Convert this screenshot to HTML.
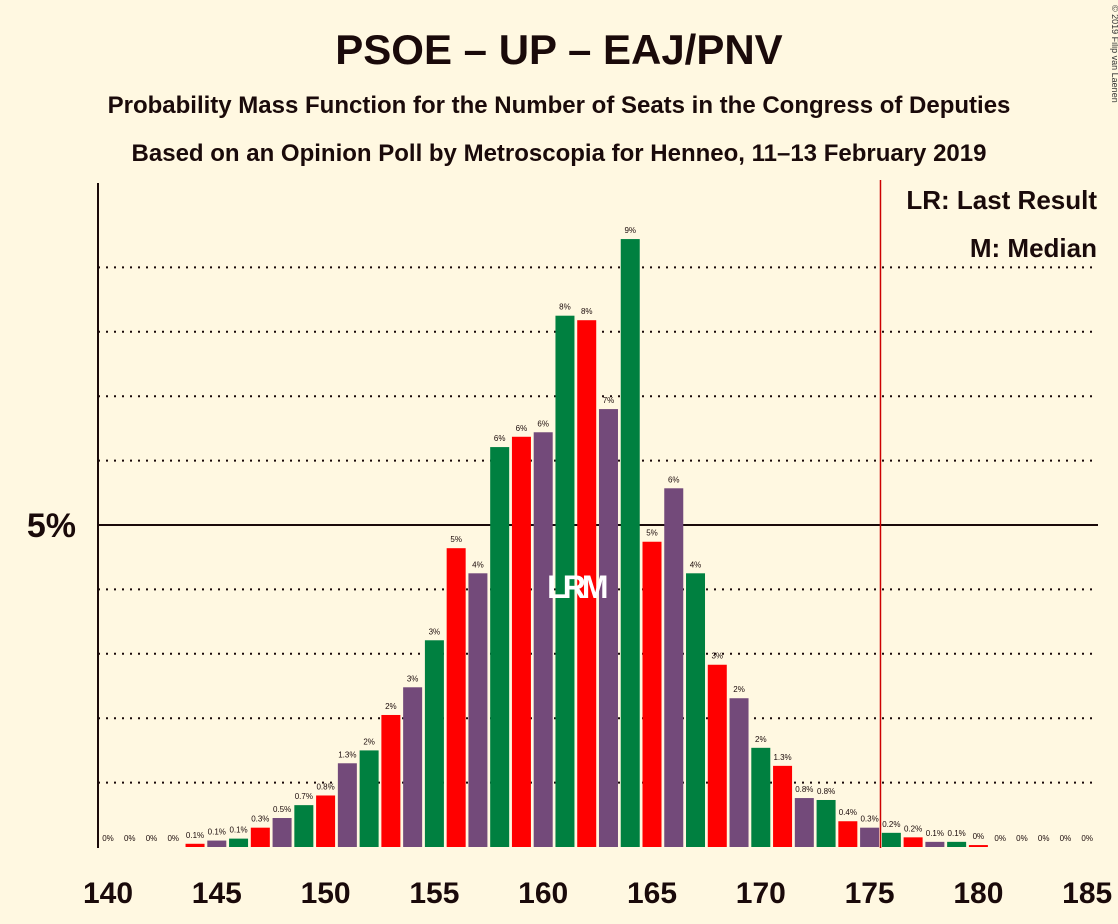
<!DOCTYPE html>
<html><head><meta charset="utf-8"><style>
body{margin:0;background:#fff8e1;}
svg{display:block;font-family:"Liberation Sans",sans-serif;}
</style></head><body>
<svg id="chart" width="1118" height="924" viewBox="0 0 1118 924">
<rect width="1118" height="924" fill="#fff8e1"/>
<text x="559" y="64" text-anchor="middle" font-size="42" font-weight="bold" fill="#1a0a0a">PSOE – UP – EAJ/PNV</text>
<text x="559" y="113" text-anchor="middle" font-size="24" font-weight="bold" fill="#1a0a0a">Probability Mass Function for the Number of Seats in the Congress of Deputies</text>
<text x="559" y="161" text-anchor="middle" font-size="24" font-weight="bold" fill="#1a0a0a">Based on an Opinion Poll by Metroscopia for Henneo, 11–13 February 2019</text>
<text x="1112" y="5" transform="rotate(90 1112 5)" font-size="9" fill="#333">© 2019 Filip van Laenen</text>
<g id="grid"></g>
<g id="bars"></g>
<g id="labels"></g>
<g id="xticks"></g>
<line x1="98" y1="183" x2="98" y2="848" stroke="#1a0a0a" stroke-width="2"/>
<text x="76" y="537" text-anchor="end" font-size="34" font-weight="bold" fill="#1a0a0a">5%</text>
<line id="lrline" x1="880" y1="180" x2="880" y2="848" stroke="#c00" stroke-width="1.5"/>
<text x="1097" y="209" text-anchor="end" font-size="26" font-weight="bold" fill="#1a0a0a">LR: Last Result</text>
<text x="1097" y="257" text-anchor="end" font-size="26" font-weight="bold" fill="#1a0a0a">M: Median</text>
</svg>
<script>
const seats=[140,141,142,143,144,145,146,147,148,149,150,151,152,153,154,155,156,157,158,159,160,161,162,163,164,165,166,167,168,169,170,171,172,173,174,175,176,177,178,179,180,181,182,183,184,185];
const probs=[0,0,0,0,0.05,0.1,0.13,0.3,0.45,0.65,0.8,1.3,1.5,2.05,2.48,3.21,4.64,4.25,6.21,6.37,6.44,8.25,8.18,6.8,9.44,4.74,5.57,4.25,2.83,2.31,1.54,1.26,0.76,0.73,0.4,0.3,0.22,0.15,0.08,0.08,0.03,0,0,0,0,0];
const valueLabels=["0%","0%","0%","0%","0.1%","0.1%","0.1%","0.3%","0.5%","0.7%","0.8%","1.3%","2%","2%","3%","3%","5%","4%","6%","6%","6%","8%","8%","7%","9%","5%","6%","4%","3%","2%","2%","1.3%","0.8%","0.8%","0.4%","0.3%","0.2%","0.2%","0.1%","0.1%","0%","0%","0%","0%","0%","0%"];
const xTicks=[140,145,150,155,160,165,170,175,180,185];
const gridPcts=[1,2,3,4,5,6,7,8,9];
const lastResult=161, median=162, majority=176;
const NS="http://www.w3.org/2000/svg";
const x=s=>108+(s-140)*21.76;
const y=p=>847-p*64.4;
const colorsFix=s=>s%3===2?"#008040":(s%3===0?"#ff0000":"#734a7a");
function mk(tag,attrs,parent){const e=document.createElementNS(NS,tag);for(const k in attrs)e.setAttribute(k,attrs[k]);document.getElementById(parent).appendChild(e);return e;}
gridPcts.forEach(p=>{
 const l=mk("line",{x1:98,x2:1098,y1:y(p),y2:y(p),stroke:"#1a0a0a","stroke-width":2,"stroke-dasharray":p===5?"":"2 6"},"grid");
 
 
});
seats.forEach((s,i)=>{
 const v=probs[i];
 if(v>0){
 const r=mk("rect",{x:x(s)-9.5,y:y(v),width:19,height:847-y(v),fill:colorsFix(s)},"bars");
 
 
 }
 const t=mk("text",{x:x(s),y:y(v)-6,"text-anchor":"middle","font-size":8,fill:"#1a0a0a"},"labels");
 t.textContent=valueLabels[i];
 
 
});
xTicks.forEach(s=>{
 const t=mk("text",{x:x(s),y:903,"text-anchor":"middle","font-size":30,"font-weight":"bold",fill:"#1a0a0a"},"xticks");
 t.textContent=s;
 
 
});
const lm=mk("text",{x:(x(lastResult)+x(median))/2,y:598,"text-anchor":"middle","font-size":32,"font-weight":"bold",fill:"#fff","letter-spacing":"-4"},"labels");
lm.textContent="LRM";


const ml=document.getElementById('lrline');
ml.setAttribute('x1',x(majority)-10.88);ml.setAttribute('x2',x(majority)-10.88);
</script>
</body></html>
